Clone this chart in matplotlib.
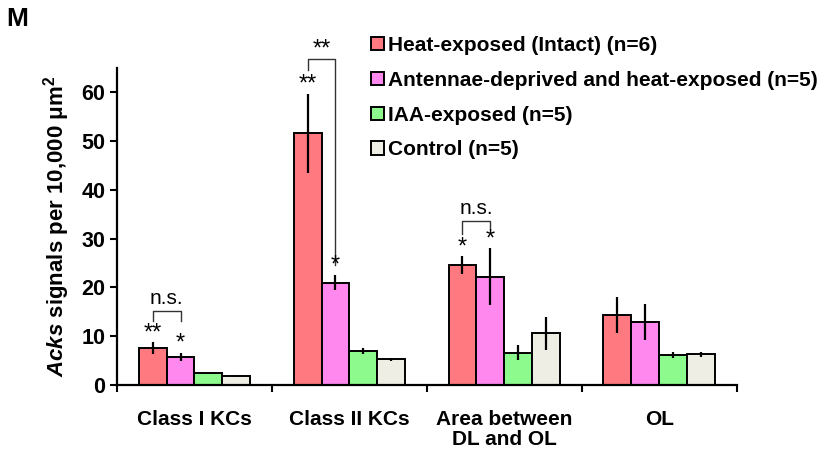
import matplotlib.pyplot as plt
import numpy as np

plt.rcParams['font.family'] = ['Liberation Sans', 'DejaVu Sans']
plt.rcParams['mathtext.fontset'] = 'custom'
plt.rcParams['mathtext.bfit'] = 'Liberation Sans:bold:italic'
plt.rcParams['mathtext.bf'] = 'Liberation Sans:bold'

categories = ['Class I KCs', 'Class II KCs', 'Area between\nDL and OL', 'OL']
groups = ['Heat-exposed (Intact) (n=6)',
          'Antennae-deprived and heat-exposed (n=5)',
          'IAA-exposed (n=5)',
          'Control (n=5)']
heat = [7.6, 51.6, 24.6, 14.4]
heat_err = [1.2, 8.1, 1.8, 3.7]
antenna = [5.8, 21.0, 22.2, 12.9]
antenna_err = [0.8, 1.6, 5.9, 3.6]
iaa = [2.4, 7.0, 6.6, 6.2]
iaa_err = [0.1, 0.6, 1.5, 0.6]
control = [1.8, 5.3, 10.6, 6.3]
control_err = [0.2, 0.3, 3.4, 0.5]

colors = ['#FF7A80', '#FF88EE', '#8CFA8C', '#EEEEE4']
fs = 15

fig = plt.figure(figsize=(8.39, 4.63), dpi=100)
ax = fig.add_axes([0.1395, 0.1685, 0.7385, 0.685])

x = np.arange(len(categories))
w = 0.18
series = [(heat, heat_err), (antenna, antenna_err), (iaa, iaa_err), (control, control_err)]
for i, (vals, errs) in enumerate(series):
    pos = x + (i - 1.5) * w
    ax.bar(pos, vals, w, color=colors[i], edgecolor='black', linewidth=1.4,
           label=groups[i], zorder=2)
    ax.errorbar(pos, vals, yerr=errs, fmt='none', ecolor='black',
                elinewidth=1.6, capsize=0, zorder=3)

ax.set_xlim(-0.5, len(categories) - 0.5)
ax.set_ylim(0, 65)
ax.set_yticks(range(0, 70, 10))
ax.set_xticks(x)
ax.set_xticklabels(categories, fontsize=fs, fontweight='bold', linespacing=1.05)
ax.set_xticks(np.arange(-0.5, len(categories), 1), minor=True)
ax.tick_params(axis='x', which='major', length=0, pad=18)
ax.tick_params(axis='x', which='minor', length=5, width=1.5, direction='out')
ax.tick_params(axis='y', length=5, width=1.5, direction='out', labelsize=15.5)
for lab in ax.get_yticklabels():
    lab.set_fontweight('bold')
for s in ['top', 'right']:
    ax.spines[s].set_visible(False)
for s in ['left', 'bottom']:
    ax.spines[s].set_linewidth(1.6)

ax.set_ylabel(r'$\mathbfit{Acks}$ signals per 10,000 μm$^\mathbf{2}$',
              fontsize=16, fontweight='bold', labelpad=7)

# significance marks
def star(xp, y, s):
    ax.text(xp, y, s, ha='center', va='bottom', fontsize=17)

xr = x - 1.5 * w
xp = x - 0.5 * w
star(xr[0], 8.3, '**')
star(xp[0], 6.2, '*')
star(xr[1], 59.3, '**')
star(xp[1], 22.3, '*')
star(xr[2], 26.0, '*')
star(xp[2], 27.6, '*')

bk = dict(color='#333333', linewidth=1.0)
ax.plot([xr[0], xr[0], xp[0], xp[0]], [13.1, 15.2, 15.2, 13.1], **bk)
ax.text((xr[0] + xp[0]) / 2, 15.8, 'n.s.', ha='center', va='bottom', fontsize=fs)
ax.plot([xr[1], xr[1], xp[1], xp[1]], [64.5, 66.8, 66.8, 24.5], clip_on=False, **bk)
ax.text((xr[1] + xp[1]) / 2, 66.5, '**', ha='center', va='bottom', fontsize=17)
ax.plot([xr[2], xr[2], xp[2], xp[2]], [30.9, 33.7, 33.7, 32.0], **bk)
ax.text((xr[2] + xp[2]) / 2, 34.3, 'n.s.', ha='center', va='bottom', fontsize=fs)

fig.text(0.008, 0.985, 'M', fontsize=19, fontweight='bold', va='top')

leg = fig.legend(loc='upper left', bbox_to_anchor=(0.42, 0.963), frameon=False,
                 handlelength=0.6, handleheight=0.6, handletextpad=0.2,
                 labelspacing=0.76, prop={'size': fs, 'weight': 'bold'})

fig.savefig('out.png', dpi=100)
